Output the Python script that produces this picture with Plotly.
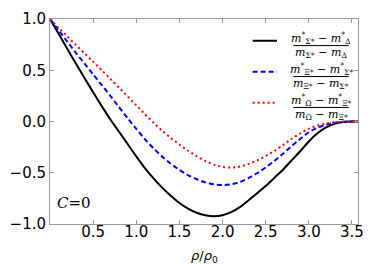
import plotly.graph_objects as go

rho = [0.0, 0.1, 0.2, 0.3, 0.4, 0.5, 0.6, 0.7, 0.8, 0.9, 1.0, 1.1, 1.2, 1.3, 1.4, 1.5, 1.6, 1.7,
       1.8, 1.9, 2.0, 2.1, 2.2, 2.3, 2.4, 2.5, 2.6, 2.7, 2.8, 2.9, 3.0, 3.1, 3.2, 3.3, 3.4, 3.5, 3.57]
sigma_delta = [1.00, 0.855, 0.71, 0.565, 0.425, 0.285, 0.15, 0.02, -0.10, -0.22, -0.34, -0.455, -0.555,
               -0.645, -0.725, -0.795, -0.85, -0.89, -0.915, -0.925, -0.915, -0.885, -0.835, -0.77, -0.70,
               -0.63, -0.55, -0.47, -0.38, -0.29, -0.195, -0.115, -0.058, -0.022, -0.005, 0.0, 0.0]
xi_sigma = [1.00, 0.89, 0.78, 0.67, 0.565, 0.46, 0.355, 0.25, 0.14, 0.033, -0.072, -0.172, -0.262,
            -0.342, -0.412, -0.472, -0.522, -0.563, -0.594, -0.613, -0.62, -0.613, -0.59, -0.553, -0.505,
            -0.448, -0.385, -0.315, -0.24, -0.17, -0.105, -0.06, -0.03, -0.012, -0.003, 0.0, 0.0]
omega_xi = [1.00, 0.915, 0.83, 0.747, 0.665, 0.583, 0.50, 0.415, 0.33, 0.245, 0.158, 0.072, -0.012,
            -0.09, -0.16, -0.225, -0.285, -0.338, -0.385, -0.42, -0.443, -0.45, -0.44, -0.415, -0.38,
            -0.337, -0.287, -0.23, -0.17, -0.115, -0.07, -0.04, -0.02, -0.007, -0.002, 0.0, 0.0]

xticks = [0.5, 1.0, 1.5, 2.0, 2.5, 3.0, 3.5]
yticks = [-1.0, -0.5, 0.0, 0.5, 1.0]

series = [
    (sigma_delta, "black", "solid",
     "<i>m</i><sup>*</sup><sub>Σ*</sub> − <i>m</i><sup>*</sup><sub>Δ</sub>",
     "<i>m</i><sub>Σ*</sub> − <i>m</i><sub>Δ</sub>"),
    (xi_sigma, "#0000ff", "5px,3px",
     "<i>m</i><sup>*</sup><sub>Ξ*</sub> − <i>m</i><sup>*</sup><sub>Σ*</sub>",
     "<i>m</i><sub>Ξ*</sub> − <i>m</i><sub>Σ*</sub>"),
    (omega_xi, "#ff0000", "2px,3px",
     "<i>m</i><sup>*</sup><sub>Ω</sub> − <i>m</i><sup>*</sup><sub>Ξ*</sub>",
     "<i>m</i><sub>Ω</sub> − <i>m</i><sub>Ξ*</sub>"),
]

fig = go.Figure()
for ys, col, dash, num, den in series:
    fig.add_trace(go.Scatter(x=rho, y=ys, mode="lines",
                             line=dict(color=col, width=2, dash=dash, shape="spline", smoothing=0.6),
                             showlegend=False, hoverinfo="skip"))

# manual legend with fraction labels (paper coordinates; plot area 319x212 px, top at y=12)
H = 212.0
def py(px):
    return (224 - px) / H

bar_px = [39.5, 71.5, 103.5]
for i, (ys, col, dash, num, den) in enumerate(series):
    b = bar_px[i]
    fig.add_shape(type="line", xref="paper", yref="paper", x0=0.658, x1=0.737,
                  y0=py(b - 5), y1=py(b - 5), line=dict(color=col, width=2, dash=dash))
    fig.add_shape(type="line", xref="paper", yref="paper", x0=0.79, x1=0.97,
                  y0=py(b), y1=py(b), line=dict(color="black", width=1))
    fig.add_annotation(xref="paper", yref="paper", x=0.88, y=py(b - 8), text=num, showarrow=False,
                       font=dict(family="DejaVu Serif", size=11, color="black"),
                       xanchor="center", yanchor="middle")
    fig.add_annotation(xref="paper", yref="paper", x=0.88, y=py(b + 7.5), text=den, showarrow=False,
                       font=dict(family="DejaVu Serif", size=11, color="black"),
                       xanchor="center", yanchor="middle")

fig.add_annotation(xref="paper", yref="paper", x=0.015, y=py(202), text="<i>C</i>=0", showarrow=False,
                   font=dict(family="DejaVu Serif", size=15, color="black"), xanchor="left", yanchor="middle")
fig.add_annotation(xref="paper", yref="paper", x=0.5, y=py(258), text="<i>ρ</i>/<i>ρ</i><sub>0</sub>",
                   showarrow=False, font=dict(family="DejaVu Sans", size=13, color="black"),
                   xanchor="center", yanchor="middle")

axis_common = dict(showgrid=False, zeroline=False, showline=True, linecolor="#9a9a9a", linewidth=1,
                   mirror="allticks", ticks="inside", ticklen=4, tickcolor="#9a9a9a",
                   tickfont=dict(family="DejaVu Sans", size=15, color="black"))
fig.update_xaxes(range=[0, 3.57], tickvals=xticks, ticktext=[f"{v:.1f}" for v in xticks],
                 ticklabelstandoff=-6, **axis_common)
fig.update_yaxes(range=[-1, 1], tickvals=yticks, ticktext=[f"{v:.1f}".replace("-", "−") for v in yticks],
                 **axis_common)
fig.update_layout(width=374, height=264, margin=dict(l=45, r=10, t=12, b=40),
                  plot_bgcolor="white", paper_bgcolor="white")
fig.write_html("out.html", config={"displayModeBar": False},
               post_script="document.body.style.margin='0';document.body.style.overflow='hidden';")
